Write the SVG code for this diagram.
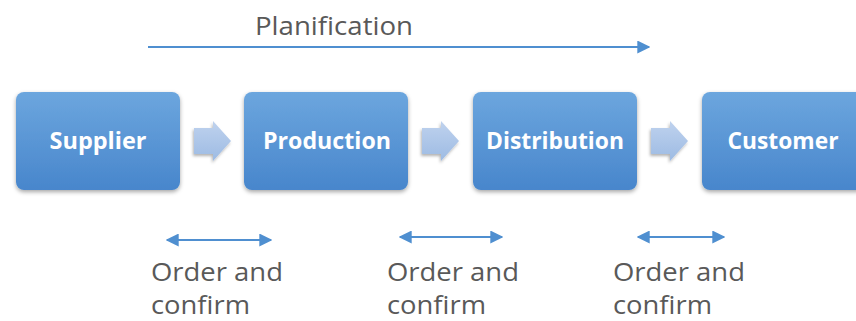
<svg xmlns="http://www.w3.org/2000/svg" width="856" height="321" viewBox="0 0 856 321">
  <style>
    .box { fill: url(#boxFill); filter: url(#shadow); }
    .label { font-family: "Open Sans", "Liberation Sans", sans-serif; font-weight: bold; font-size: 23px; fill: #ffffff; text-anchor: middle; }
    .step { fill: url(#stepFill); filter: url(#softShadow); }
    .note { font-family: "Open Sans", "Liberation Sans", sans-serif; font-size: 25px; fill: #595959; }
    .link { stroke: #4f8fd0; stroke-width: 2; fill: none; }
  </style>
  <defs>
    <linearGradient id="boxFill" x1="0" y1="0" x2="0" y2="1">
      <stop offset="0" stop-color="#6ca6de"/>
      <stop offset="1" stop-color="#4886cc"/>
    </linearGradient>
    <linearGradient id="stepFill" x1="0" y1="0" x2="0" y2="1">
      <stop offset="0" stop-color="#bfd2ee"/>
      <stop offset="1" stop-color="#9dbbe3"/>
    </linearGradient>
    <filter id="shadow" x="-10%" y="-10%" width="120%" height="130%">
      <feDropShadow dx="0" dy="2" stdDeviation="2" flood-color="#000" flood-opacity="0.35"/>
    </filter>
    <filter id="softShadow" x="-20%" y="-20%" width="150%" height="150%">
      <feDropShadow dx="-1" dy="2" stdDeviation="1.5" flood-color="#000" flood-opacity="0.3"/>
    </filter>
    <marker id="head" viewBox="0 0 10 10" refX="9" refY="5" markerWidth="6.5" markerHeight="6.5" orient="auto-start-reverse" markerUnits="strokeWidth">
      <path d="M0,0 L10,5 L0,10 z" fill="#4f8fd0"/>
    </marker>
    <path id="blockArrow" d="M-18,-13 H1 V-20 L19,0 L1,20 V13 H-18 z"/>
  </defs>

  <!-- planning arrow title -->
  <g id="planification">
    <text x="255" y="35" font-family="'Open Sans','Liberation Sans',sans-serif" font-size="25" fill="#595959" textLength="158" lengthAdjust="spacingAndGlyphs">Planification</text>
  </g>

  <!-- chain nodes -->
  <g id="supplier">
    <rect class="box" x="16" y="92" width="164" height="98" rx="8"/>
    <text class="label" x="98" y="149" textLength="97" lengthAdjust="spacingAndGlyphs">Supplier</text>
  </g>
  <g id="production">
    <rect class="box" x="244" y="92" width="164" height="98" rx="8"/>
    <text class="label" x="327" y="149" textLength="128" lengthAdjust="spacingAndGlyphs">Production</text>
  </g>
  <g id="distribution">
    <rect class="box" x="473" y="92" width="164" height="98" rx="8"/>
    <text class="label" x="555" y="149" textLength="138" lengthAdjust="spacingAndGlyphs">Distribution</text>
  </g>
  <g id="customer">
    <rect class="box" x="702" y="92" width="164" height="98" rx="8"/>
    <text class="label" x="783" y="149" textLength="111" lengthAdjust="spacingAndGlyphs">Customer</text>
  </g>

  <!-- order-and-confirm notes -->
  <g id="note1">
    <text class="note" x="151" y="281" textLength="132" lengthAdjust="spacingAndGlyphs">Order and</text>
    <text class="note" x="151" y="314" textLength="99" lengthAdjust="spacingAndGlyphs">confirm</text>
  </g>
  <g id="note2">
    <text class="note" x="387" y="281" textLength="132" lengthAdjust="spacingAndGlyphs">Order and</text>
    <text class="note" x="387" y="314" textLength="99" lengthAdjust="spacingAndGlyphs">confirm</text>
  </g>
  <g id="note3">
    <text class="note" x="613" y="281" textLength="132" lengthAdjust="spacingAndGlyphs">Order and</text>
    <text class="note" x="613" y="314" textLength="99" lengthAdjust="spacingAndGlyphs">confirm</text>
  </g>

  <!-- connectors -->
  <g id="connectors">
    <use href="#blockArrow" class="step" x="212" y="141"/>
    <use href="#blockArrow" class="step" x="440" y="141"/>
    <use href="#blockArrow" class="step" x="669" y="141"/>
    <line class="link" x1="148" y1="47" x2="649" y2="47" marker-end="url(#head)"/>
    <line class="link" x1="167" y1="240" x2="271" y2="240" marker-start="url(#head)" marker-end="url(#head)"/>
    <line class="link" x1="400" y1="237" x2="502" y2="237" marker-start="url(#head)" marker-end="url(#head)"/>
    <line class="link" x1="638" y1="237" x2="724" y2="237" marker-start="url(#head)" marker-end="url(#head)"/>
  </g>
</svg>
